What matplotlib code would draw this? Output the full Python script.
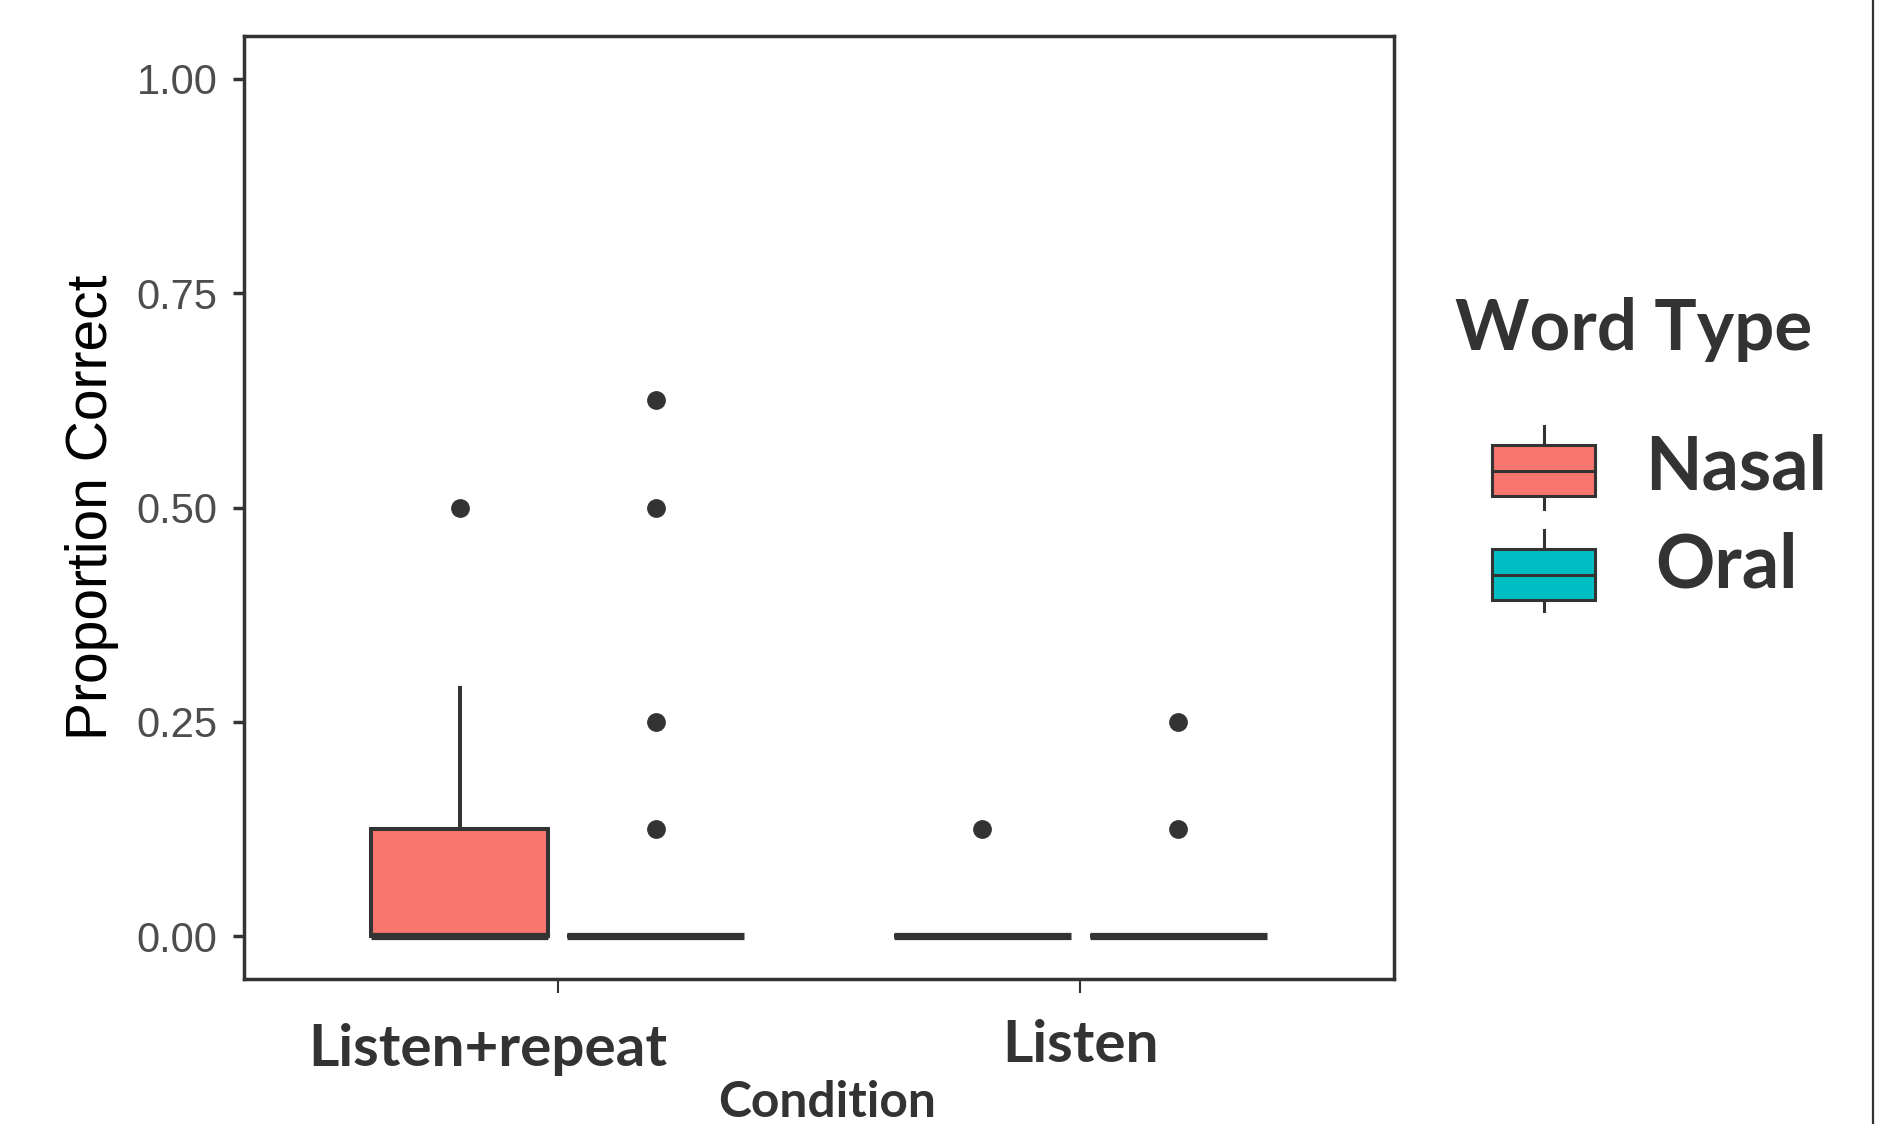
import matplotlib
matplotlib.use("Agg")
import matplotlib.pyplot as plt
from matplotlib.transforms import ScaledTranslation
from matplotlib.patches import Rectangle
from matplotlib.lines import Line2D

# ---------------- data ----------------
conditions = ["Listen+repeat", "Listen"]
word_types = ["Nasal", "Oral"]
type_colors = ["#F8766D", "#00BFC4"]

nasal_q1 = [0.0, 0.0]
nasal_median = [0.0, 0.0]
nasal_q3 = [0.125, 0.0]
nasal_whisker_low = [0.0, 0.0]
nasal_whisker_high = [0.29, 0.0]
nasal_outliers = [[0.5], [0.125]]

oral_q1 = [0.0, 0.0]
oral_median = [0.0, 0.0]
oral_q3 = [0.0, 0.0]
oral_whisker_low = [0.0, 0.0]
oral_whisker_high = [0.0, 0.0]
oral_outliers = [[0.125, 0.25, 0.5, 0.625], [0.125, 0.25]]

y_ticks = [0.0, 0.25, 0.5, 0.75, 1.0]
y_tick_labels = ["0.00", "0.25", "0.50", "0.75", "1.00"]

# ---------------- layout ----------------
W, H = 1893, 1124
DARK = "#333333"
fig = plt.figure(figsize=(W / 100, H / 100), dpi=100)
fig.patch.set_facecolor("white")


def fx(x):
    return x / W


def fy(y):
    return 1 - y / H


ax_left, ax_right, ax_top, ax_bottom = 244, 1394, 36, 979
ax = fig.add_axes([fx(ax_left), fy(ax_bottom), (ax_right - ax_left) / W, (ax_bottom - ax_top) / H])

dodge = 0.375
box_w = 0.3375
groups = [
    (nasal_q1, nasal_median, nasal_q3, nasal_whisker_low, nasal_whisker_high, nasal_outliers),
    (oral_q1, oral_median, oral_q3, oral_whisker_low, oral_whisker_high, oral_outliers),
]
for t, (q1, med, q3, wlo, whi, outl) in enumerate(groups):
    stats = []
    positions = []
    for c in range(len(conditions)):
        stats.append(dict(q1=q1[c], med=med[c], q3=q3[c], whislo=wlo[c], whishi=whi[c], fliers=outl[c]))
        positions.append(c + 1 + (t - 0.5) * dodge)
    ax.bxp(stats, positions=positions, widths=box_w, patch_artist=True, showcaps=False,
           boxprops=dict(facecolor=type_colors[t], edgecolor=DARK, linewidth=2.9),
           medianprops=dict(color=DARK, linewidth=5.2, solid_capstyle="butt"),
           whiskerprops=dict(color=DARK, linewidth=2.9),
           flierprops=dict(marker="o", markerfacecolor=DARK, markeredgecolor=DARK, markersize=12.5),
           manage_ticks=False)

ax.set_xlim(0.4, 2.6)
ax.set_ylim(-0.05, 1.05)
for s in ax.spines.values():
    s.set_linewidth(2.5)
    s.set_color(DARK)

ax.set_yticks(y_ticks)
ax.set_yticklabels(y_tick_labels, fontfamily="Liberation Sans", fontsize=30, color="#4D4D4D")
ax.tick_params(axis="y", length=8, width=2.5, color=DARK, pad=11)

ax.set_xticks([1, 2])
ax.set_xticklabels(conditions, fontfamily="Lato", fontweight="bold", fontsize=42, color=DARK)
ax.tick_params(axis="x", length=10, width=1.5, color=DARK, pad=19)
xl = ax.get_xticklabels()
xl[0].set_transform(xl[0].get_transform() + ScaledTranslation(-0.70, -0.04, fig.dpi_scale_trans))

# axis titles
fig.text(fx(92), fy(507), "Proportion Correct", rotation=90, ha="center", va="center",
         fontfamily="Liberation Sans", fontsize=41, color="black")
fig.text(fx(827), fy(1117), "Condition", ha="center", va="baseline",
         fontfamily="Lato", fontweight="bold", fontsize=35.8, color=DARK)

# ---------------- legend ----------------
fig.text(fx(1455), fy(350), "Word Type", ha="left", va="baseline",
         fontfamily="Lato", fontweight="bold", fontsize=51, color=DARK)
# (box top, box bottom, whisker top, whisker bottom, text baseline, text left)
key_rows = [(445, 496, 426, 509, 489, 1645), (549, 600, 530, 611, 587, 1655)]
for t, (yt, yb, wt, wb, base, tx) in enumerate(key_rows):
    x0, x1 = 1492, 1595
    xm = (x0 + x1) / 2
    for (ya, yb2) in ((wt, yt), (yb, wb)):
        fig.add_artist(Line2D([fx(xm), fx(xm)], [fy(ya), fy(yb2)], color=DARK, linewidth=2.2,
                              transform=fig.transFigure))
    fig.add_artist(Rectangle((fx(x0), fy(yb)), fx(x1) - fx(x0), fy(yt) - fy(yb),
                             facecolor=type_colors[t], edgecolor=DARK, linewidth=2.2,
                             transform=fig.transFigure))
    ym = (yt + yb) / 2
    fig.add_artist(Line2D([fx(x0), fx(x1)], [fy(ym), fy(ym)], color=DARK, linewidth=2.2,
                          transform=fig.transFigure))
    fig.text(fx(tx), fy(base), word_types[t], ha="left", va="baseline",
             fontfamily="Lato", fontweight="bold", fontsize=53, color=DARK)

# right border line
fig.add_artist(Line2D([fx(1873), fx(1873)], [0, 1], color=DARK, linewidth=1.6,
                      transform=fig.transFigure))

fig.savefig("out.png", dpi=100)
